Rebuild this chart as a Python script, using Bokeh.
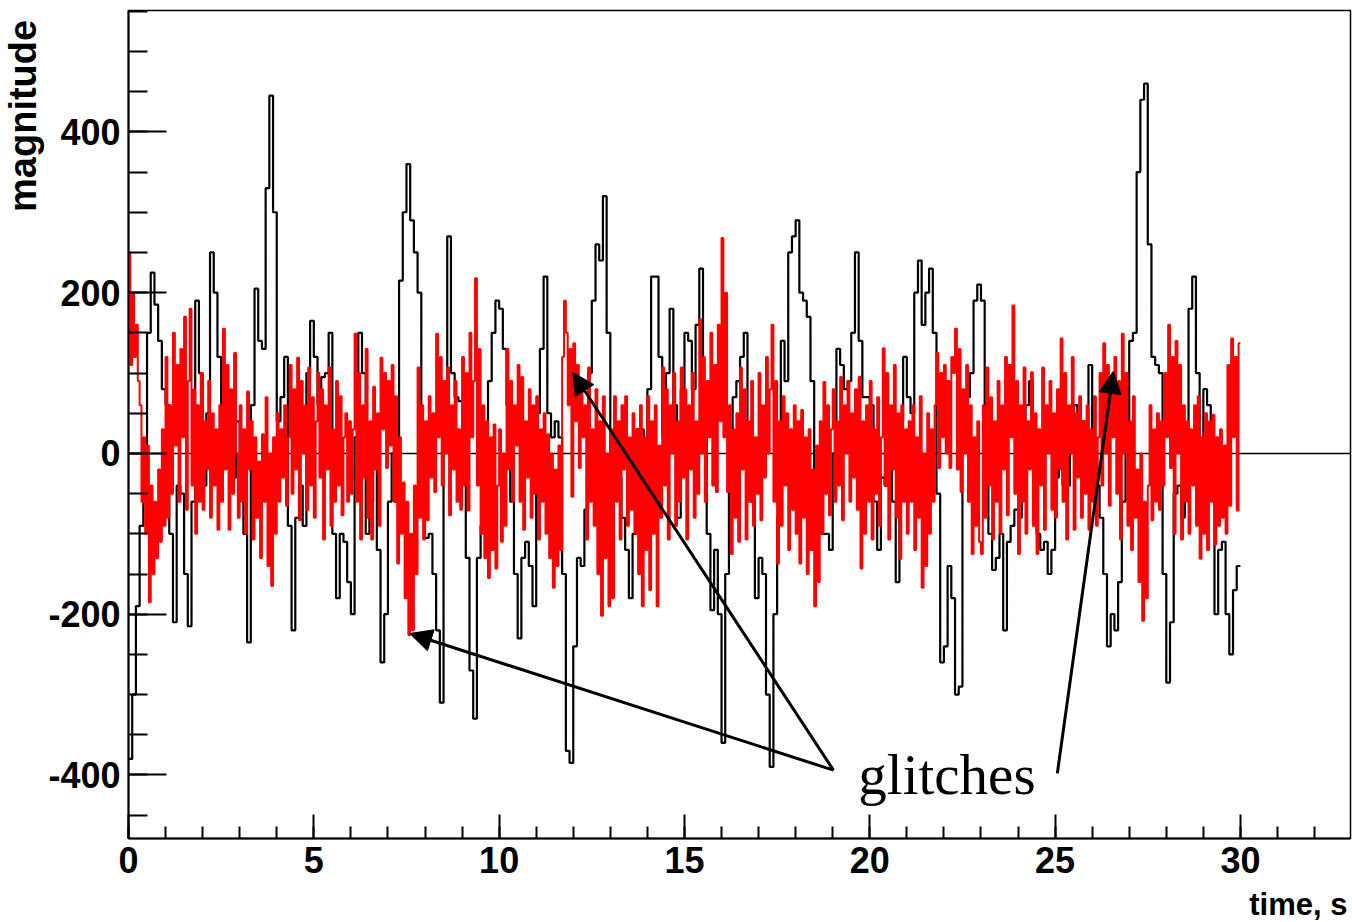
import numpy as np
from bokeh.plotting import figure
from bokeh.layouts import row, column
from bokeh.models import (Range1d, SingleIntervalTicker, PrintfTickFormatter,
                          Span, Label, Arrow, NormalHead)
from bokeh.core.properties import value
from bokeh.embed import file_html
from bokeh.resources import INLINE

# ---------------- data ----------------
black_bin = 0.1   # s
red_bin = 0.05    # s

black_signal = [
    -380, -300, -190, -90, -55, 150, 225, 185, 140, 80,
    60, -100, -210, -40, -50, -150, -215, -60, 190, 100,
    -40, 50, 250, 200, 120, 45, 40, 0, -30, 40,
    -20, -100, -235, 60, 205, 140, 130, 330, 445, 300,
    40, 70, 120, -90, -220, -80, -40, -90, 100, 165,
    120, 60, 95, 100, 150, -100, -180, -100, -110, -160,
    -200, 20, 150, 100, -100, -60, -10, -120, -260, -200,
    -60, 0, -60, 215, 300, 360, 290, 250, 200, 30,
    -105, -100, -150, -220, -310, 50, 270, 100, 70, 65,
    -10, -130, -270, -330, -130, -90, -40, 90, 150, 190,
    180, 130, 60, -60, -150, -230, -130, -110, -140, -190,
    50, 130, 220, 50, 20, 40, 20, -150, -370, -385,
    -240, -130, -140, -70, 100, 190, 260, 240, 320, 150,
    -10, -40, -30, -80, -120, -180, -100, 30, 30, 0,
    80, 220, 220, 120, 20, 100, 180, 60, -80, 80,
    150, 140, 80, 160, 230, 60, -100, -195, -120, -200,
    -360, -150, 30, 70, 90, 120, 150, 30, -60, -180,
    -130, -150, -300, -390, -200, -80, 140, 90, 250, 270,
    290, 200, 190, 170, 90, -20, -80, -100, -100, -120,
    0, 130, 110, 80, 90, 150, 250, 140, 70, 70,
    60, -60, -120, -30, -40, 20, -60, -160, 40, 120,
    70, 50, 200, 240, 160, 200, 230, 150, -50, -260,
    -240, -140, -180, -300, -290, 40, 70, 100, 190, 210,
    190, 60, -100, -145, -130, -100, -220, -110, -90, -70,
    -80, 0, 60, 90, -20, -100, -120, -110, -150, -120,
    -30, 0, -40, -40, 50, 60, 40, 40, -10, 110,
    0, -40, -80, -150, -240, -200, -220, -160, -60, 30,
    140, 150, 350, 440, 460, 260, 120, 110, 100, -150,
    -285, -210, -50, -40, -80, 30, 180, 220, 100, -10,
    80, 60, -50, -200, -120, -110, -200, -250, -170, -140,
]

red_signal = [
    250, 110, 200, 120, 160, 90, 60, -60, 20, -100, 10, -185, -40, -150, -60, -130, -20, -110, 30, -90,
    120, -80, 60, -50, 150, 10, 110, -60, 130, 20, 170, -70, 90, 180, -40, 80, -100, 60, -60, 100,
    -70, 40, -20, 90, -80, 50, -40, 30, -95, 60, -60, 155, -20, 110, -95, 80, -50, 125, 0, -80,
    60, -60, 30, -100, 77, -20, 40, -107, 20, -80, -10, -130, 24, -60, 70, -140, 0, -165, 20, -100,
    50, -60, 30, -30, 60, -65, 20, 110, -50, 80, -20, 119, -83, 90, 0, 60, -70, 107, -40, 70,
    -80, 40, 100, -30, 80, -107, 60, -20, 107, -90, 30, -60, 90, -40, 71, -77, 20, 50, -60, 40,
    -50, 30, 149, -60, 100, -107, 60, -30, 130, -80, 40, -107, 83, -20, 50, -90, 119, 30, 100, -18,
    90, 10, 110, -60, 71, -137, 20, -100, -36, -180, -60, -226, -100, -220, -40, -150, 107, -80, 60, -107,
    40, -83, 71, -30, 50, -48, 149, 20, 120, -40, 90, 0, 107, -77, 60, -20, 90, -60, 30, -70,
    120, -40, 100, -71, 150, 20, 90, 218, -40, 130, -100, 60, -130, 40, -155, 20, -120, 36, -143, -40,
    30, -110, 0, -90, 130, -20, 90, -60, 60, 10, 110, -60, 95, -95, 40, -30, 80, -80, 60, -50,
    71, -107, 30, -60, 50, -100, 24, -130, 0, -167, -20, -140, 10, -120, 120, 190, 150, 60, 130, -54,
    137, 40, 110, -18, 90, 20, 60, -107, 107, -60, 30, -90, 80, -150, 40, -202, 71, -130, 0, -190,
    30, -180, 71, -60, 40, -107, 60, -20, 71, -90, 20, -70, 50, -100, 30, -150, 60, -190, 20, -120,
    71, -170, 40, -100, 60, -190, 10, -80, 107, -40, 80, -107, 60, 0, 100, -90, 40, -60, 107, -30,
    80, -107, 60, -20, 100, -80, 40, -50, 167, 0, 120, -60, 90, 20, 150, -40, 110, -48, 160, 40,
    268, 20, 200, -48, 60, -125, 30, -80, 50, -110, 107, -20, 80, -107, 40, -60, 90, -90, 20, -50,
    100, -83, 60, -30, 120, 0, 80, 160, -60, 90, -137, 40, -90, 71, -40, 50, -120, 30, -70, 60,
    -100, 40, -137, 54, -80, 20, -150, 30, -120, -20, -190, 10, -160, 40, -100, 89, -50, 60, -77, 30,
    80, -60, 40, -40, 95, -83, 60, 0, 90, -60, 50, -30, 80, -70, 95, -143, 40, -100, 60, -60,
    90, -107, 30, -50, 70, -90, 20, 131, -40, 100, -107, 60, -20, 110, -80, 50, -131, 60, -60, 30,
    -100, 40, -60, 60, -120, 20, -80, 71, -167, 0, -140, 50, -100, 30, -60, 60, 125, -18, 100, 20,
    110, 0, 90, -18, 120, 100, 155, -20, 130, -48, 80, 0, 110, -60, 60, -125, 20, -90, 40, -110,
    -125, 60, -80, 107, -40, 70, -107, 40, -60, 90, -100, 60, -20, 120, -77, 110, 20, 184, -50, 90,
    -125, 60, -60, 107, -100, 40, -20, 101, -90, 50, -125, 30, -40, 107, -95, 60, 0, 90, -70, 50,
    -80, 80, -20, 143, -60, 100, -107, 60, 0, 120, -95, 50, -30, 71, -80, 40, -50, 60, -95, 30,
    -60, 71, -90, 20, 100, -40, 137, 0, 110, -65, 80, 20, 120, -50, 90, -107, 149, 0, 100, -90,
    40, -120, 71, -80, -20, -160, 0, -208, -60, -180, -40, 60, -83, 30, -60, 50, -70, 40, -40, 100,
    20, 160, -18, 120, -100, 140, 0, 110, -107, 60, -60, 40, -100, 30, -40, 60, -90, 71, -131, 20,
    -100, 50, -120, 40, -60, 48, -113, 20, -90, 30, -80, 10, -100, 110, -65, 143, 20, 120, -71, 137,
]

x_title = "time, s"
y_title = "magnitude"
note_text = "glitches"
# annotation anchors (data units): arrow tails and heads
arrow_tails = [(19.02, -394), (19.02, -394), (25.06, -398)]
arrow_heads = [(7.59, -224), (11.98, 101), (26.57, 102)]

# ---------------- layout sizes ----------------
W, H = 1352, 922
LEFT_W = 45          # strip holding the y title
FOOT_H = 36          # strip holding the x title
MAIN_W = W - LEFT_W
MAIN_H = H - FOOT_H

# ---------------- main figure ----------------
p = figure(width=MAIN_W, height=MAIN_H, output_backend="svg", toolbar_location=None,
           x_range=Range1d(0, 32.97), y_range=Range1d(-479, 551),
           min_border_left=128 - LEFT_W, min_border_right=2, min_border_top=10,
           min_border_bottom=MAIN_H - 838)
p.grid.visible = False
p.background_fill_color = "white"
p.border_fill_color = "white"
p.outline_line_color = "black"
p.outline_line_width = 1.5

p.add_layout(Span(location=0, dimension="width", line_color="black",
                  line_width=1.5, level="underlay"))


def step_xy(values, width):
    vals = list(values)
    edges = np.arange(len(vals) + 1) * width
    return edges, vals + [vals[-1]]


bx, by = step_xy(black_signal, black_bin)
p.step(bx, by, mode="after", line_color="black", line_width=2.2)
rx, ry = step_xy(red_signal, red_bin)
p.step(rx, ry, mode="after", line_color="#ff0000", line_width=2)

p.xaxis.ticker = SingleIntervalTicker(interval=5, num_minor_ticks=5)
p.yaxis.ticker = SingleIntervalTicker(interval=200, num_minor_ticks=4)
p.yaxis.formatter = PrintfTickFormatter(format="%d")
for ax in (p.xaxis[0], p.yaxis[0]):
    ax.axis_line_width = 2
    ax.major_tick_line_width = 2
    ax.minor_tick_line_width = 2
    ax.major_tick_out = 0
    ax.minor_tick_out = 0
    ax.major_label_text_font = "Liberation Sans"
    ax.major_label_text_font_style = "bold"
    ax.major_label_text_font_size = "36px"
    ax.major_label_text_color = "black"
p.xaxis.major_tick_in = 24
p.xaxis.minor_tick_in = 12
p.xaxis.major_label_standoff = 8
p.yaxis.major_tick_in = 38
p.yaxis.minor_tick_in = 19
p.yaxis.major_label_standoff = 8

p.add_layout(Label(x=19.69, y=-399, text=note_text, text_align="left",
                   text_baseline="alphabetic", text_font="Liberation Serif",
                   text_font_size="57px", text_color="black"))
for (xs, ys), (xe, ye) in zip(arrow_tails, arrow_heads):
    p.add_layout(Arrow(end=NormalHead(size=22, fill_color="black",
                                      line_color="black", line_width=1),
                       x_start=xs, y_start=ys, x_end=xe, y_end=ye,
                       line_color="black", line_width=3))

# ---------------- y title strip ----------------
left = figure(width=LEFT_W, height=MAIN_H, output_backend="svg", toolbar_location=None,
              x_range=Range1d(0, LEFT_W), y_range=Range1d(0, MAIN_H),
              x_axis_type=None, y_axis_type=None, min_border=0)
left.outline_line_color = None
left.grid.visible = False
left.text(x=[22.5], y=[MAIN_H - 10], text=[y_title], angle=np.pi / 2,
          text_align="right", text_baseline="alphabetic",
          text_font=value("Liberation Sans"), text_font_style="bold",
          text_font_size="38px", text_color="black")

# ---------------- x title strip ----------------
foot = figure(width=W, height=FOOT_H, output_backend="svg", toolbar_location=None,
              x_range=Range1d(0, W), y_range=Range1d(0, FOOT_H),
              x_axis_type=None, y_axis_type=None, min_border=0)
foot.outline_line_color = None
foot.grid.visible = False
foot.text(x=[1347], y=[18.1], text=[x_title], text_align="right",
          text_baseline="alphabetic", text_font=value("Liberation Sans"),
          text_font_style="bold", text_font_size="31px", text_color="black")

layout = column(row(left, p, spacing=0), foot, spacing=0)
open("out.html", "w").write(file_html(layout, INLINE))
